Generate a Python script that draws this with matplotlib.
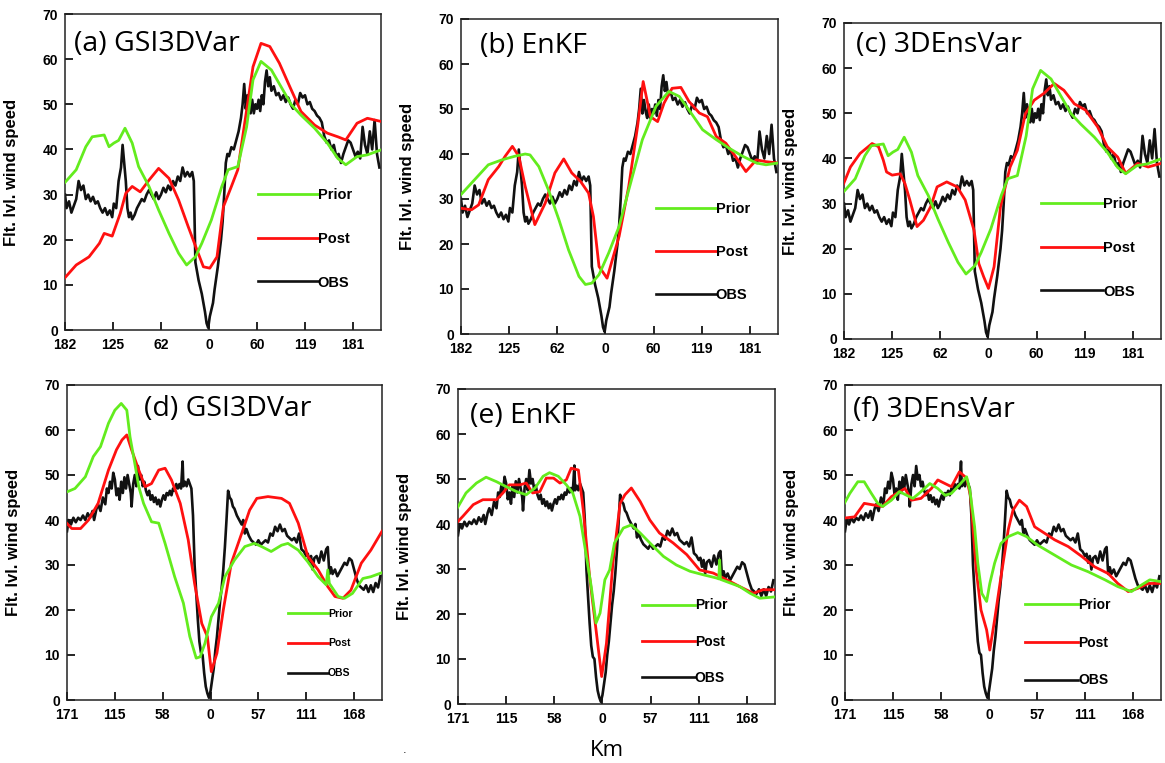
import matplotlib
matplotlib.use("Agg")
import matplotlib.pyplot as plt

# ---------------- data (flight-level wind speed vs distance from centre, km) ----------------
# top row observations (shared by a, b, c)
obs_top_km = [-180, -178, -175, -172, -169, -166, -163, -160, -157, -154,
              -151, -148, -145, -142, -139, -136, -133, -130, -127, -124,
              -121, -119, -116, -113, -110, -108, -106, -104, -102, -100,
              -98, -96, -93, -90, -87, -84, -81, -78, -75, -72,
              -69, -66, -63, -60, -57, -54, -51, -48, -45, -42,
              -39, -36, -33, -30, -27, -24, -21, -19, -17, -15,
              -13, -11, -9, -7, -5, -3, -1, 1, 3, 5,
              7, 9, 11, 13, 15, 17, 19, 21, 23, 25,
              28, 31, 34, 37, 40, 42, 44, 46, 48, 50,
              52, 54, 56, 58, 60, 62, 64, 66, 68, 70,
              72, 74, 76, 78, 81, 84, 87, 90, 93, 96,
              99, 102, 105, 108, 111, 114, 117, 120, 123, 126,
              129, 132, 135, 138, 141, 144, 147, 150, 153, 156,
              159, 162, 165, 168, 171, 174, 177, 180, 183, 186,
              189, 192, 195, 198, 201, 204, 207, 210, 213]
obs_top_ws = [30, 27, 28.5, 26, 27.5, 29, 33, 31, 32, 29,
              30, 28.5, 29.5, 28, 28.5, 27, 26, 27, 25.5, 26.5,
              25, 28, 27, 33, 36, 41, 37, 33, 27, 25,
              26, 24.5, 25.5, 27, 28, 29, 28.5, 30, 31, 30,
              29, 30.5, 29, 30, 31.5, 30.5, 32, 31, 33, 32,
              34, 33, 36, 34, 35, 34, 35, 33, 15, 13,
              11, 9.5, 8, 6, 4, 1.5, 0.5, 3, 4.5, 6,
              9, 11.5, 14, 17, 20, 24, 30, 37, 39, 38.5,
              40.5, 40, 42, 44, 47, 50, 54.5, 49, 52, 49.5,
              48, 51, 48, 50, 49, 51, 48.5, 52, 50, 55,
              57.5, 54, 56, 53, 54, 52, 52.5, 51, 52, 50.5,
              51.5, 50, 49, 51, 50, 52.5, 51.5, 52, 50, 50.5,
              49, 48.5, 47.5, 47, 46, 43, 41.5, 42, 40, 41,
              38.5, 39, 37, 39, 40.5, 42, 41.5, 40, 38.5, 39.5,
              38, 45, 41, 39, 44, 40, 46.5, 39, 36]

# bottom row observations (shared by d, e, f)
obs_bot_km = [-180, -178, -175, -172, -169, -166, -163, -160, -157, -154,
              -151, -148, -146, -143, -141, -138, -135, -132, -130, -128,
              -126, -124, -122, -120, -118, -116, -114, -112, -110, -108,
              -106, -104, -102, -100, -99, -97, -95, -93, -91, -89,
              -87, -85, -83, -81, -79, -77, -75, -73, -71, -69,
              -67, -65, -63, -61, -59, -57, -55, -53, -51, -49,
              -47, -45, -43, -41, -39, -37, -35, -34, -32, -30,
              -28, -26, -24, -22, -20, -18, -16, -14, -12, -10,
              -8, -6, -4, -2, 0, 2, 4, 6, 8, 10,
              12, 14, 16, 18, 20, 22, 24, 26, 28, 30,
              33, 36, 39, 41, 43, 45, 48, 51, 54, 57,
              60, 63, 66, 69, 72, 75, 78, 81, 84, 87,
              90, 93, 96, 99, 102, 105, 108, 111, 114, 117,
              120, 122, 124, 126, 128, 130, 133, 136, 139, 142,
              145, 147, 149, 151, 153, 156, 159, 162, 165, 168,
              171, 174, 177, 180, 183, 186, 189, 192, 195, 198,
              201, 204, 207, 210, 213]
obs_bot_ws = [37.5, 40, 39, 40.5, 39.5, 40.5, 40, 41, 40, 41.5,
              40.5, 42, 40, 42.5, 43.5, 42, 45, 43.5, 47, 46,
              48.5, 47, 50.5, 49, 45.5, 47, 44.5, 48.5, 46, 49.5,
              47, 50, 48, 46, 43, 48, 50, 47.5, 52, 49,
              50, 47.5, 48.5, 46.5, 45.5, 46.5, 44.5, 45.5, 44, 45,
              43.5, 44.5, 43, 44.5, 45.5, 44.5, 46, 45.5, 46.5, 45.5,
              47, 46.5, 48, 47, 48, 47, 53, 47.5, 48.5, 47.5,
              49, 48, 47, 41, 30, 24, 18, 13, 10.5, 10,
              6, 3, 1.5, 0.5, 2, 4.5, 7, 11, 14, 18,
              22, 25, 29, 34, 40, 46.5, 45, 44.5, 43, 42.5,
              41, 40, 39, 40, 37, 38, 36.5, 35.5, 35, 34.5,
              35.5, 34.5, 35, 35.5, 35, 37, 36.5, 38.5, 37.5, 39,
              37.5, 38, 36.5, 36, 35.5, 36, 35, 37, 33.5, 33,
              32, 32.5, 30.5, 32, 29, 31.5, 32, 30.5, 33, 31,
              33.5, 34, 28, 29.5, 28, 29, 27.5, 28.5, 29.5, 30.5,
              30, 31.5, 31, 29, 27, 25.5, 25, 24.5, 25.5, 24,
              25.5, 24, 26, 25, 27.5]

# (a) GSI3DVar top / (c) 3DEnsVar top share the same prior
prior_a_km = [-181, -166, -154, -146, -131, -125, -119, -113, -105, -96, -88, -75, -63, -50,
              -38, -28, -17, -9, 3, 16, 24, 36, 47, 55, 65, 78, 90, 103, 115, 132, 148,
              161, 171, 185, 198, 215]
prior_a_ws = [32.5, 35.5, 40.6, 42.8, 43.2, 40.6, 41.4, 42, 44.7, 41.4, 36.2, 31.8, 26.6, 21.4,
              17, 14.4, 16.2, 19.2, 24.4, 31.8, 35.5, 36.2, 45, 55.4, 59.5, 57.6, 53.9, 49.9,
              47.6, 44.7, 41.4, 38, 36.6, 38.4, 38.8, 39.9]
post_a_km = [-181, -166, -150, -137, -131, -121, -111, -104, -96, -86, -75, -63, -50, -38,
             -26, -15, -7, 1, 10, 18, 28, 36, 47, 55, 65, 76, 88, 101, 115, 132, 148, 161,
             171, 185, 198, 215]
post_a_ws = [11.4, 14.4, 16.2, 19.2, 21.4, 20.8, 25.8, 30.3, 31.8, 30.6, 33.2, 35.8, 33.6,
             28.8, 22.9, 17.7, 14, 13.7, 16.2, 27.3, 31.8, 35.5, 48.7, 58.3, 63.5, 62.8, 59.1,
             53.9, 48.4, 45.4, 43.6, 42.8, 42.1, 45.8, 46.9, 46.2]

# (b) EnKF top
prior_b_km = [-182, -163, -146, -129, -113, -100, -94, -83, -71, -58, -46, -33, -25, -17, -8,
              4, 17, 29, 46, 63, 79, 92, 104, 121, 138, 154, 171, 188, 200, 215]
prior_b_ws = [30.6, 34.3, 37.6, 38.7, 39.5, 40, 39.8, 37.2, 32, 25.4, 18.7, 12.8, 11, 11.3,
              13.2, 18, 23.9, 32, 43.2, 50.6, 53.9, 52.8, 49.8, 45.4, 43.2, 41.3, 39.5, 38,
              37.6, 38]
post_b_km = [-182, -167, -158, -146, -133, -125, -116, -108, -100, -88, -75, -63, -52, -42,
             -31, -21, -15, -8, 2, 17, 29, 40, 47, 56, 65, 73, 83, 94, 104, 117, 127, 138,
             150, 165, 175, 188, 200, 215]
post_b_ws = [28, 27.6, 28.7, 34.3, 37.2, 39.5, 41.7, 39.5, 32.8, 24.3, 29.1, 35.8, 38.9, 35.8,
             33.9, 31.3, 26.1, 15, 12.4, 21.7, 32.8, 46.1, 56.1, 48.3, 47.2, 51.3, 54.6, 54.8,
             51.7, 49.1, 48.3, 43.9, 42.4, 38.7, 36.1, 38.7, 38.3, 38]

# (c) 3DEnsVar top posterior
post_c_km = [-183, -172, -160, -145, -137, -131, -127, -120, -110, -104, -98, -89, -81, -72,
             -64, -52, -39, -29, -18, -12, -6, 0, 7, 15, 27, 36, 46, 57, 69, 82, 94, 107,
             121, 136, 148, 161, 171, 186, 199, 215]
post_c_ws = [33.3, 38.1, 41.1, 43.3, 42.6, 39.6, 37, 36.3, 36.6, 34.4, 30.8, 24.9, 26.3, 29.3,
             33.7, 34.8, 33.7, 30.8, 24.1, 16.7, 13.8, 11.2, 16, 29.3, 38.1, 41.8, 49.9, 52.9,
             54.4, 56.6, 55.1, 52.1, 50.7, 47, 42.6, 40.3, 36.7, 38.9, 38.1, 38.9]

# (d) GSI3DVar bottom
prior_d_km = [-182, -170, -157, -147, -138, -128, -120, -112, -105, -101, -95, -90, -84, -74,
              -65, -57, -45, -34, -26, -18, -13, -7, 1, 10, 18, 30, 43, 55, 64, 76, 89, 97,
              110, 122, 135, 145, 147, 149, 160, 168, 178, 191, 201, 215]
prior_d_ws = [46.1, 47, 49.6, 54.1, 56.3, 61.5, 64.4, 65.9, 64.4, 58.5, 52.6, 47.4, 43.7, 39.6,
              39.3, 34.8, 27.4, 21.5, 14.1, 9.3, 9.6, 12.6, 18.5, 21.5, 27.4, 31.1, 34.1, 34.8,
              34.1, 33, 34.4, 34.8, 33.3, 30.7, 27.4, 25.6, 28.9, 25.9, 23, 22.6, 23.7, 27,
              27.4, 28.3]
post_d_km = [-182, -174, -163, -153, -141, -128, -118, -111, -105, -99, -90, -82, -74, -65,
             -57, -49, -38, -28, -20, -11, -4, 1, 8, 16, 26, 39, 49, 58, 72, 89, 99, 110, 122,
             135, 147, 156, 166, 176, 189, 201, 215]
post_d_ws = [39.6, 38.1, 38.1, 40, 43.7, 51.1, 55.6, 57.8, 58.9, 55.6, 51.1, 47.4, 48.1, 51.1,
             51.5, 48.9, 43.7, 35.6, 25.9, 17, 14.1, 6.3, 10.4, 20, 30.4, 37, 42.2, 44.8, 45.2,
             44.8, 43.7, 39.3, 31.9, 28.9, 25.2, 23, 22.6, 24.4, 30.4, 33.3, 37.5]

# (e) EnKF bottom
prior_e_km = [-182, -170, -157, -145, -132, -120, -107, -95, -84, -74, -66, -55, -45, -37, -28,
              -20, -14, -8, -3, 3, 9, 15, 26, 36, 47, 59, 76, 92, 109, 126, 142, 145, 146,
              147, 159, 171, 184, 196, 215]
prior_e_ws = [43.2, 46.9, 49.1, 50.4, 49.4, 48.3, 47.2, 46.5, 48, 50.6, 51.4, 50.6, 48.7, 46.9,
              41.7, 32.8, 26.1, 18, 20.2, 27.6, 29.8, 35.8, 39.1, 39.8, 38, 35.8, 32.8, 30.9,
              29.5, 28.7, 28, 27.8, 32, 27.7, 26.9, 26.1, 24.6, 23.5, 23.8]
post_e_km = [-182, -174, -161, -149, -132, -124, -116, -103, -95, -87, -78, -70, -61, -53, -45,
             -39, -30, -24, -16, -7, -1, 5, 13, 22, 28, 36, 47, 59, 71, 88, 105, 121, 138,
             155, 171, 188, 200, 215]
post_e_ws = [40.2, 41.7, 44.3, 45.4, 45.4, 46.9, 48.7, 48.7, 49.1, 46.9, 47.2, 50.2, 50.2,
             49.1, 49.8, 52.4, 52, 43.2, 28.3, 15, 6.1, 13.5, 31.3, 44.6, 46.5, 48, 45, 40.9,
             38, 35.8, 33.2, 29.8, 29.1, 27.6, 26.1, 24.6, 25.4, 25.4]

# (f) 3DEnsVar bottom
prior_f_km = [-182, -174, -164, -156, -147, -139, -133, -122, -112, -103, -95, -85, -74, -64,
              -55, -47, -37, -28, -24, -18, -14, -9, -3, 1, 7, 15, 24, 36, 47, 61, 82, 103,
              124, 145, 161, 178, 191, 201, 215]
prior_f_ws = [43.3, 45.9, 48.5, 48.5, 45.9, 43.7, 43, 44.4, 46.3, 45.5, 44.8, 46.3, 48.1, 47,
              45.5, 45.9, 47.8, 49.6, 46.7, 38.5, 30.4, 23.7, 21.9, 25.9, 30.4, 34.8, 36.3,
              37.2, 36.3, 34.4, 32.2, 30, 28.5, 26.7, 25.2, 24.1, 25.6, 26.7, 26.3]
post_f_km = [-182, -168, -156, -143, -133, -122, -105, -97, -85, -72, -64, -55, -47, -37, -28,
             -23, -16, -10, -3, 1, 7, 15, 24, 30, 38, 47, 57, 70, 82, 99, 116, 132, 149, 161,
             174, 186, 199, 215]
post_f_ws = [40.4, 40.7, 43.7, 43.3, 43, 45.2, 47, 44.4, 44.8, 47, 48.9, 48.1, 47.4, 50.7,
             49.3, 45.2, 28.9, 20, 15.6, 11.1, 17.8, 27.4, 37.8, 42.2, 44.4, 43, 38.5, 37,
             35.6, 34.1, 31.9, 29.6, 28.1, 25.9, 24.1, 24.8, 25.9, 25.9]

panel_titles = ["(a) GSI3DVar", "(b) EnKF", "(c) 3DEnsVar",
                "(d) GSI3DVar", "(e) EnKF", "(f) 3DEnsVar"]
xtick_labels_top = ["182", "125", "62", "0", "60", "119", "181"]
xtick_labels_bot = ["171", "115", "58", "0", "57", "111", "168"]
xtick_pos = [-180, -120, -60, 0, 60, 120, 180]
series_names = ["Prior", "Post", "OBS"]

# ---------------- layout ----------------
W, H = 1165, 763
# axes boxes in pixels: left, top, right, bottom
boxes = [(65, 14, 381, 330), (461, 19, 778, 334), (844, 23, 1161, 339),
         (67, 385, 382, 700), (458, 389, 775, 704), (845, 385, 1161, 700)]
# title x, y (axes fraction)
title_pos = [(0.03, 0.905), (0.06, 0.915), (0.038, 0.93),
             (0.245, 0.925), (0.038, 0.915), (0.025, 0.92)]
# legend: anchor x, anchor y (axes fraction), fontsize, handlelength, labelspacing
legend_cfg = [(0.61, 0.45, 10.5, 4.1, 2.05), (0.615, 0.42, 10.5, 4.1, 2.0),
              (0.62, 0.45, 10.5, 4.3, 2.05), (0.70, 0.29, 7.5, 3.9, 1.9),
              (0.58, 0.335, 10, 3.8, 1.6), (0.57, 0.325, 10, 3.8, 1.72)]

GREEN = "#63ec1e"
RED = "#ff1010"
BLACK = "#111111"

panels = [
    (obs_top_km, obs_top_ws, prior_a_km, prior_a_ws, post_a_km, post_a_ws, xtick_labels_top),
    (obs_top_km, obs_top_ws, prior_b_km, prior_b_ws, post_b_km, post_b_ws, xtick_labels_top),
    (obs_top_km, obs_top_ws, prior_a_km, prior_a_ws, post_c_km, post_c_ws, xtick_labels_top),
    (obs_bot_km, obs_bot_ws, prior_d_km, prior_d_ws, post_d_km, post_d_ws, xtick_labels_bot),
    (obs_bot_km, obs_bot_ws, prior_e_km, prior_e_ws, post_e_km, post_e_ws, xtick_labels_bot),
    (obs_bot_km, obs_bot_ws, prior_f_km, prior_f_ws, post_f_km, post_f_ws, xtick_labels_bot),
]

fig = plt.figure(figsize=(W / 100, H / 100), dpi=100)
tick_font = ["Liberation Sans", "DejaVu Sans"]

for i, (okm, ows, pkm, pws, qkm, qws, xlabels) in enumerate(panels):
    l, t, r, b = boxes[i]
    ax = fig.add_axes([l / W, 1 - b / H, (r - l) / W, (b - t) / H])

    h_obs, = ax.plot(okm, ows, color=BLACK, lw=1.9, zorder=2)
    h_post, = ax.plot(qkm, qws, color=RED, lw=2.0, zorder=3)
    h_prior, = ax.plot(pkm, pws, color=GREEN, lw=2.0, zorder=4)

    ax.set_xlim(-180, 215)
    ax.set_ylim(0, 70)
    ax.set_xticks(xtick_pos)
    ax.set_xticklabels(xlabels, fontweight="bold", family=tick_font, fontsize=10)
    ax.set_yticks(range(0, 71, 10))
    ax.set_yticklabels([str(v) for v in range(0, 71, 10)], fontweight="bold",
                       family=tick_font, fontsize=10)
    ax.tick_params(direction="in", length=6, width=1.2, top=False, right=False)
    ax.tick_params(axis="x", pad=6)
    ax.tick_params(axis="y", pad=5)
    for sp in ax.spines.values():
        sp.set_linewidth(1.1)
        sp.set_color("#222222")

    ax.set_ylabel("Flt. lvl. wind speed", fontweight="bold", family=tick_font, fontsize=12)
    ax.yaxis.set_label_coords(-0.145, 0.5)

    tx, ty = title_pos[i]
    ax.text(tx, ty, panel_titles[i], transform=ax.transAxes, ha="left", va="center",
            family=["Open Sans", "DejaVu Sans"], fontweight="medium", fontsize=20.5)

    lx, ly, lfs, hl, ls = legend_cfg[i]
    ax.legend([h_prior, h_post, h_obs], series_names, loc="upper left",
              bbox_to_anchor=(lx, ly), frameon=False, borderpad=0, borderaxespad=0,
              handlelength=hl, handletextpad=0, labelspacing=ls,
              prop={"family": tick_font, "weight": "bold", "size": lfs})

fig.text(607 / W, 1 - 750 / H, "Km", ha="center", va="center",
         family=["Open Sans", "DejaVu Sans"], fontsize=16)
fig.text(405 / W, 1 - 750 / H, ".", ha="center", va="center", fontsize=8)

fig.savefig("out.png", dpi=100)
